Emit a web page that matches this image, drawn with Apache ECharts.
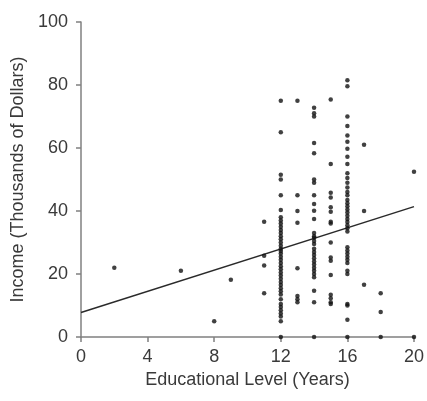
<!DOCTYPE html>
<html>
<head>
<meta charset="utf-8">
<script src="https://cdn.jsdelivr.net/npm/echarts@6/dist/echarts.min.js"></script>
<style>
html,body{margin:0;padding:0;background:#fff;}
#chart{width:427px;height:401px;}
</style>
</head>
<body>
<div id="chart"></div>
<script>
// Education levels (years) and observed incomes (thousands of dollars) at each level
const educationLevels = [2, 6, 8, 9, 11, 12, 13, 14, 15, 16, 17, 18, 20];
const incomeAt2 = [22];
const incomeAt6 = [21];
const incomeAt8 = [5];
const incomeAt9 = [18.2];
const incomeAt11 = [36.6, 25.8, 22.7, 13.9];
const incomeAt12 = [75, 65, 51.5, 50, 45, 40.3, 38, 37, 36, 35, 34, 33, 32, 31, 30, 29, 28, 27.3, 26.5, 25.5, 24.5, 23.5, 22.5, 21.5, 20.5, 19.5, 18.5, 17.5, 16.5, 15.5, 14.5, 13.5, 12, 10.5, 9.5, 8.5, 7.5, 6.5, 5, 0];
const incomeAt13 = [75, 45, 40, 36.3, 21.8, 13, 12, 11];
const incomeAt14 = [72.8, 71, 70, 61.6, 58.3, 50, 49, 45, 42.2, 40.1, 37.5, 33, 32, 31.5, 30.5, 29.5, 28, 27, 26, 25, 24, 23, 22, 21, 20, 19, 14.7, 11, 0];
const incomeAt15 = [75.4, 54.9, 45.8, 44.3, 41.2, 39.8, 36.6, 36, 30, 25.2, 24.2, 19.7, 13.4, 12.3, 11, 10.5];
const incomeAt16 = [81.5, 79.6, 70, 67, 64, 62, 59.8, 57.2, 54.9, 52, 50.5, 49, 47.5, 46, 45, 43.5, 42.5, 41.5, 40.5, 39.5, 38.5, 37.5, 36.5, 35.5, 34.5, 33.5, 28.5, 27.5, 26.5, 25.5, 24.5, 23.5, 21, 20, 10.5, 10, 5.5, 0];
const incomeAt17 = [61, 40, 16.6];
const incomeAt18 = [13.9, 7.9, 0];
const incomeAt20 = [52.5, 0];
const incomesByLevel = [incomeAt2, incomeAt6, incomeAt8, incomeAt9, incomeAt11, incomeAt12, incomeAt13, incomeAt14, incomeAt15, incomeAt16, incomeAt17, incomeAt18, incomeAt20];

// Regression line end points
const lineX = [0, 20];
const lineY = [7.8, 41.4];

// Axis ticks
const xTicks = [0, 4, 8, 12, 16, 20];
const yTicks = [0, 20, 40, 60, 80, 100];

const points = [];
educationLevels.forEach((lvl, i) => {
  incomesByLevel[i].forEach(v => points.push([lvl, v]));
});
const linePts = lineX.map((x, i) => [x, lineY[i]]);

const font = '"Liberation Sans", Arial, sans-serif';
const textColor = '#3a3a3a';
const axisColor = '#808080';

const chart = echarts.init(document.getElementById('chart'), null, {renderer: 'canvas'});
chart.setOption({
  animation: false,
  backgroundColor: '#ffffff',
  grid: {left: 81, right: 8, top: 22, bottom: 64, containLabel: false},
  xAxis: {
    type: 'value',
    min: xTicks[0], max: xTicks[xTicks.length - 1], interval: 4,
    name: 'Educational Level (Years)',
    nameLocation: 'middle', nameGap: 31,
    nameTextStyle: {fontFamily: font, fontSize: 18, color: textColor},
    axisLine: {show: true, onZero: false, lineStyle: {color: axisColor, width: 1.5}},
    axisTick: {show: true, inside: false, length: 5, lineStyle: {color: axisColor, width: 1.5}},
    axisLabel: {fontFamily: font, fontSize: 18, color: textColor, margin: 11},
    splitLine: {show: false}
  },
  yAxis: {
    type: 'value',
    min: yTicks[0], max: yTicks[yTicks.length - 1], interval: 20,
    name: 'Income (Thousands of Dollars)',
    nameLocation: 'middle', nameGap: 42, nameRotate: 90,
    nameTextStyle: {fontFamily: font, fontSize: 18, color: textColor},
    axisLine: {show: true, onZero: false, lineStyle: {color: axisColor, width: 1.5}},
    axisTick: {show: true, inside: false, length: 5, lineStyle: {color: axisColor, width: 1.5}},
    axisLabel: {fontFamily: font, fontSize: 18, color: textColor, margin: 13},
    splitLine: {show: false}
  },
  series: [
    {
      type: 'line',
      data: linePts,
      showSymbol: false,
      symbol: 'none',
      lineStyle: {color: '#2a2a2a', width: 1.5},
      silent: true,
      z: 2
    },
    {
      type: 'scatter',
      data: points,
      symbol: 'circle',
      symbolSize: 4.5,
      clip: false,
      itemStyle: {color: '#111111'},
      z: 3
    }
  ]
});
</script>
</body>
</html>
